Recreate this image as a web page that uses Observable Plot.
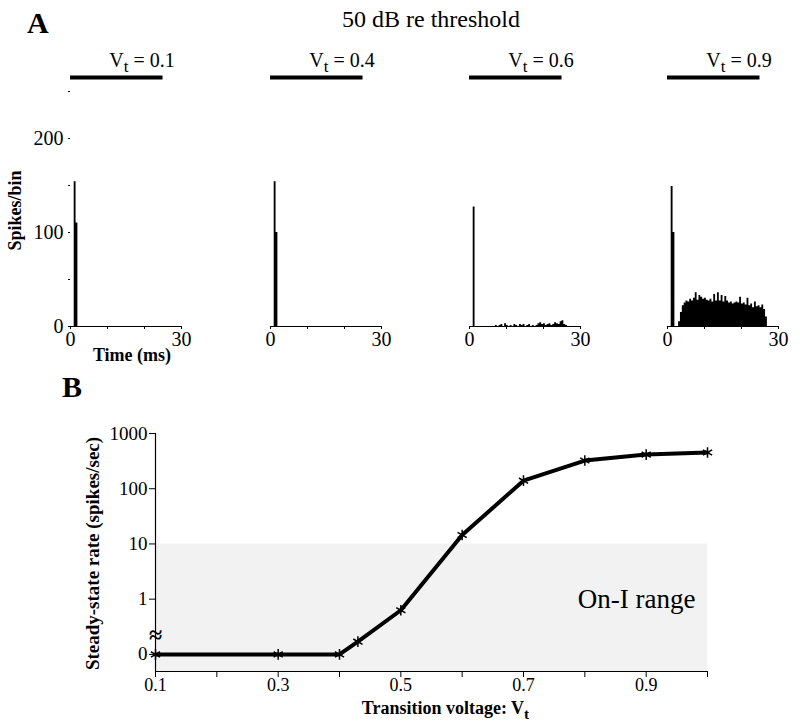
<!DOCTYPE html>
<html>
<head>
<meta charset="utf-8">
<script src="https://cdn.jsdelivr.net/npm/d3@7"></script>
<script src="https://cdn.jsdelivr.net/npm/@observablehq/plot@0.6"></script>
<style>
  html, body { margin: 0; padding: 0; background: #fff; }
  #chart { position: relative; width: 800px; height: 726px; overflow: hidden; font-family: "Liberation Serif", "Times New Roman", serif; color: #000; }
  #chart svg { position: absolute; overflow: visible; background: transparent; }
  .lbl { position: absolute; white-space: nowrap; line-height: 1; }
</style>
</head>
<body>
<div id="chart">
  <div class="lbl" style="left:27px; top:8px; font-size:30px; font-weight:bold;">A</div>
  <div class="lbl" style="left:431px; top:7px; font-size:24px; transform:translateX(-50%);">50 dB re threshold</div>
  <div class="lbl" style="left:62px; top:372px; font-size:30px; font-weight:bold;">B</div>
</div>
<script>
// ---------- Panel A data (post-stimulus time histograms, 0.5 ms bins starting at 0 ms) ----------
const vtLevels = [0.1, 0.4, 0.6, 0.9];
const binWidthMs = 0.5;
const counts01 = [0, 0, 154, 110];
const counts04 = [0, 0, 154, 100];
const counts06 = [0, 0, 127, 0, 0, 0, 0, 0, 0, 0, 0, 0, 0, 0,
  1, 0, 1, 2, 0, 3, 1, 0, 1, 0, 2, 1, 0, 2, 1, 2, 0, 1, 2, 0, 1, 0, 1, 3, 4, 2,
  3, 1, 2, 3, 1, 2, 4, 3, 2, 5, 6, 2, 1, 0];
const counts09 = [0, 0, 149, 100, 0, 0,
  5, 15, 22, 25, 27, 26, 29, 27, 30, 36, 28, 33, 31, 29, 30, 28, 27, 29, 26, 34,
  27, 36, 27, 33, 26, 32, 27, 25, 26, 24, 25, 26, 25, 31, 24, 25, 23, 30, 22, 24,
  20, 26, 21, 22, 20, 23, 18, 10];
const panelCounts = [counts01, counts04, counts06, counts09];
const stimulus = [{start: 0, end: 25}];
const spikeTicks = [0, 50, 100, 150, 200, 250];
const spikeTickLabels = [0, 100, 200];
const timeTicks = [0, 10, 20, 30];
const timeTickLabels = [0, 30];

// ---------- Panel B data ----------
const vtPoints = [0.1, 0.3, 0.4, 0.43, 0.5, 0.6, 0.7, 0.8, 0.9, 1.0];
const steadyRates = [0, 0, 0, 0.17, 0.63, 14.5, 140, 324, 415, 452];
const voltTicks = [0.1, 0.2, 0.3, 0.4, 0.5, 0.6, 0.7, 0.8, 0.9, 1.0];
const voltTickLabels = [0.1, 0.3, 0.5, 0.7, 0.9];
const rateTicks = [0, 1, 10, 100, 1000];
const onIRange = [0, 10];

// ---------- helpers ----------
const serif = "'Liberation Serif', 'Times New Roman', serif";
const NS = "http://www.w3.org/2000/svg";
function subscriptT(root) {
  root.querySelectorAll("text").forEach(el => {
    const s = el.textContent;
    const i = s.indexOf("Vt");
    if (i < 0 || el.querySelector("tspan")) return;
    el.textContent = "";
    const a = document.createElementNS(NS, "tspan"); a.textContent = s.slice(0, i + 1);
    const b = document.createElementNS(NS, "tspan"); b.textContent = "t";
    b.setAttribute("dy", "5"); b.setAttribute("font-size", "85%");
    const c = document.createElementNS(NS, "tspan"); c.textContent = s.slice(i + 2);
    c.setAttribute("dy", "-5");
    el.append(a, b, c);
  });
}
const chart = document.getElementById("chart");

// ---------- Panel A ----------
const STIM_LEVEL = 265;
const panelLefts = [0, 200, 399, 597];
panelCounts.forEach((counts, p) => {
  // step outline of the histogram (solid silhouette as in the printed PSTH)
  const steps = counts.map((c, k) => ({t: k * binWidthMs, y: c}));
  steps.push({t: counts.length * binWidthMs, y: 0});
  const marks = [
    Plot.areaY(steps, {x: "t", y: "y", curve: "step-after", fill: "black"}),
    Plot.ruleY([0], {stroke: "black", strokeWidth: 1.2}),
    Plot.ruleY(stimulus, {x1: "start", x2: "end", y: () => STIM_LEVEL, stroke: "black", strokeWidth: 4}),
    Plot.axisX({ticks: timeTicks, tickFormat: d => timeTickLabels.includes(d) ? d : "", tickSize: 3, tickPadding: 2, fontSize: 20, label: null}),
    Plot.text([`Vt = ${vtLevels[p]}`], {frameAnchor: "top", textAnchor: "middle", dx: 16, dy: 8, fontSize: 20, fontFamily: serif})
  ];
  if (p === 0) {
    marks.push(
      Plot.axisY({ticks: spikeTicks, tickFormat: d => spikeTickLabels.includes(d) ? d : "", tickSize: 2, tickPadding: 5, fontSize: 20, label: null}),
      Plot.text(["Spikes/bin"], {frameAnchor: "left", textAnchor: "middle", dx: -55, dy: 25, rotate: -90, fontSize: 18, fontWeight: "bold", fontFamily: serif}),
      Plot.text(["Time (ms)"], {frameAnchor: "bottom", textAnchor: "middle", dx: 6, dy: 34, fontSize: 18, fontWeight: "bold", fontFamily: serif})
    );
  } else {
    marks.push(Plot.axisY({ticks: [], label: null}));
  }
  const svg = Plot.plot({
    width: 200, height: 380,
    marginLeft: 70, marginRight: 19, marginTop: 44, marginBottom: 54,
    x: {domain: [0, 30]},
    y: {domain: [0, 300]},
    style: {fontFamily: serif, fontSize: "20px", background: "transparent", color: "black", overflow: "visible"},
    marks
  });
  svg.style.left = panelLefts[p] + "px";
  svg.style.top = "0px";
  subscriptT(svg);
  chart.appendChild(svg);
});

// ---------- Panel B ----------
const ZERO_AT = 0.1;     // position of the "0" tick on the broken log axis
const Y_MIN = 0.049;
const BREAK_AT = 0.22;
const toY = r => r === 0 ? ZERO_AT : r;
const pts = vtPoints.map((v, i) => ({v, r: toY(steadyRates[i])}));
const svgB = Plot.plot({
  width: 800, height: 346,
  marginLeft: 155, marginRight: 93, marginTop: 53, marginBottom: 55,
  x: {domain: [voltTicks[0], voltTicks[voltTicks.length - 1]]},
  y: {type: "log", domain: [Y_MIN, 1000]},
  style: {fontFamily: serif, fontSize: "19px", background: "transparent", color: "black", overflow: "visible"},
  marks: [
    Plot.rect([onIRange], {x1: () => voltTicks[0], x2: () => voltTicks[voltTicks.length - 1], y1: () => Y_MIN, y2: d => d[1], fill: "#f2f2f2"}),
    Plot.ruleX([voltTicks[0]], {stroke: "black", strokeWidth: 1.2}),
    Plot.ruleY([Y_MIN], {stroke: "black", strokeWidth: 1.2}),
    Plot.line(pts, {x: "v", y: "r", stroke: "black", strokeWidth: 4, strokeLinejoin: "round"}),
    Plot.dot(pts, {x: "v", y: "r", symbol: "asterisk", r: 5, stroke: "black", strokeWidth: 1.5}),
    Plot.axisX({ticks: voltTicks, tickFormat: d => voltTickLabels.some(t => Math.abs(t - d) < 1e-9) ? d.toFixed(1) : "", tickSize: 6, tickPadding: 1, fontSize: 18, label: null}),
    Plot.axisY({ticks: rateTicks.map(toY), tickFormat: d => d === ZERO_AT ? "0" : String(d), tickSize: 6, tickPadding: 2, fontSize: 19, label: null}),
    Plot.text(["≈"], {x: () => voltTicks[0], y: () => BREAK_AT, fontSize: 24, fontWeight: "bold", fontFamily: serif}),
    Plot.text(["On-I range"], {frameAnchor: "bottom-right", textAnchor: "end", dx: -12, dy: -64, fontSize: 27, fontFamily: serif}),
    Plot.text(["Steady-state rate (spikes/sec)"], {frameAnchor: "left", textAnchor: "middle", dx: -63, dy: 1, rotate: -90, fontSize: 19, fontWeight: "bold", fontFamily: serif}),
    Plot.text(["Transition voltage: Vt"], {frameAnchor: "bottom", textAnchor: "middle", dx: 14, dy: 42, fontSize: 18, fontWeight: "bold", fontFamily: serif})
  ]
});
svgB.style.left = "0px";
svgB.style.top = "380px";
subscriptT(svgB);
chart.appendChild(svgB);
</script>
</body>
</html>
